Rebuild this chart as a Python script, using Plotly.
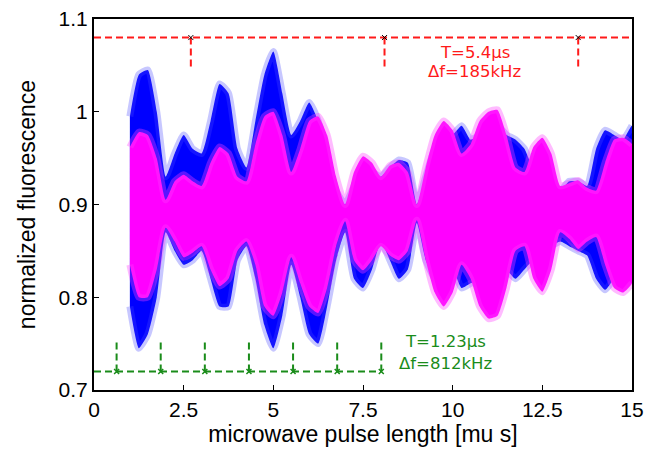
import plotly.graph_objects as go

# pulse lengths (mu s) where the envelopes are sampled
t = [1.0, 1.25, 1.5, 1.75, 2.0, 2.25, 2.5, 2.75, 3.0, 3.25, 3.5, 3.75, 4.0, 4.25,
     4.5, 4.75, 5.0, 5.25, 5.5, 5.75, 6.0, 6.25, 6.5, 6.75, 7.0, 7.25, 7.5, 7.75,
     8.0, 8.25, 8.5, 8.75, 9.0, 9.25, 9.5, 9.75, 10.0, 10.25, 10.5, 10.75, 11.0,
     11.25, 11.5, 11.75, 12.0, 12.25, 12.5, 12.75, 13.0, 13.25, 13.5, 13.75, 14.0,
     14.25, 14.5, 14.75, 15.0]

# blue trace: upper / lower envelope of the fast oscillation
blue_upper = [0.995, 1.04, 1.045, 1.0, 0.93, 0.955, 0.975, 0.96, 0.955, 0.99, 1.03,
              1.02, 0.96, 0.94, 0.99, 1.04, 1.065, 1.02, 0.975, 0.99, 1.01, 0.99,
              0.95, 0.915, 0.9, 0.92, 0.94, 0.935, 0.93, 0.94, 0.948, 0.945, 0.9,
              0.93, 0.96, 0.97, 0.975, 0.985, 0.97, 0.975, 0.98, 0.985, 0.975, 0.97,
              0.96, 0.94, 0.94, 0.92, 0.915, 0.925, 0.925, 0.92, 0.96, 0.98, 0.975,
              0.97, 0.985]
blue_lower = [0.79, 0.745, 0.76, 0.8, 0.87, 0.85, 0.835, 0.84, 0.85, 0.82, 0.79,
              0.79, 0.84, 0.855, 0.82, 0.77, 0.745, 0.78, 0.835, 0.8, 0.76, 0.75,
              0.79, 0.84, 0.87, 0.82, 0.81, 0.83, 0.86, 0.84, 0.82, 0.83, 0.88,
              0.84, 0.82, 0.81, 0.83, 0.81, 0.815, 0.82, 0.84, 0.84, 0.83, 0.82,
              0.83, 0.84, 0.84, 0.855, 0.86, 0.855, 0.85, 0.845, 0.82, 0.808, 0.82,
              0.83, 0.82]

# magenta trace: upper / lower envelope
magenta_upper = [0.962, 0.978, 0.975, 0.95, 0.905, 0.925, 0.932, 0.925, 0.92, 0.945,
                 0.962, 0.955, 0.93, 0.925, 0.965, 0.995, 1.0, 0.975, 0.935, 0.96,
                 0.99, 0.995, 0.975, 0.93, 0.9, 0.935, 0.952, 0.945, 0.93, 0.942,
                 0.945, 0.935, 0.9, 0.94, 0.975, 0.99, 0.98, 0.955, 0.965, 0.99, 1.0,
                 1.002, 0.975, 0.94, 0.935, 0.962, 0.972, 0.955, 0.92, 0.923, 0.926,
                 0.918, 0.915, 0.945, 0.97, 0.972, 0.965]
magenta_lower = [0.835, 0.8, 0.8, 0.83, 0.875, 0.86, 0.843, 0.848, 0.855, 0.83,
                 0.812, 0.82, 0.85, 0.86, 0.835, 0.79, 0.78, 0.805, 0.843, 0.815,
                 0.79, 0.783, 0.81, 0.855, 0.882, 0.84, 0.829, 0.84, 0.855, 0.845,
                 0.84, 0.85, 0.883, 0.84, 0.805, 0.79, 0.805, 0.835, 0.82, 0.79,
                 0.777, 0.78, 0.81, 0.85, 0.855, 0.82, 0.806, 0.83, 0.87, 0.863,
                 0.852, 0.86, 0.865, 0.835, 0.81, 0.805, 0.815]

# beat-period markers
red_marks = [2.7, 8.1, 13.5]
red_level, red_tick_end = 1.08, 1.045
green_marks = [0.63, 1.86, 3.09, 4.32, 5.55, 6.78, 8.01]
green_level, green_tick_end = 0.72, 0.753

x_ticks = [0, 2.5, 5, 7.5, 10, 12.5, 15]
x_tick_text = ["0", "2.5", "5", "7.5", "10", "12.5", "15"]
y_ticks = [0.7, 0.8, 0.9, 1.0, 1.1]
y_tick_text = ["0.7", "0.8", "0.9", "1", "1.1"]

RED = "#ff1a1a"
GREEN = "#1a8c1a"
DASH = "7px,4px"

fig = go.Figure()


def band(upper, lower, solid, light):
    fig.add_trace(go.Scatter(
        x=t + t[::-1], y=upper + lower[::-1], mode="lines", fill="toself",
        fillcolor=solid, line=dict(width=0, shape="spline", smoothing=0.5),
        hoverinfo="skip", showlegend=False))
    for edge in (upper, lower):
        fig.add_trace(go.Scatter(
            x=t, y=edge, mode="lines",
            line=dict(color=light, width=7, shape="spline", smoothing=0.5),
            hoverinfo="skip", showlegend=False))


band(blue_upper, blue_lower, "rgb(0,0,255)", "rgba(70,70,255,0.3)")
band(magenta_upper, magenta_lower, "rgb(255,0,255)", "rgba(255,60,255,0.35)")

# red period markers (T = 5.4 mu s)
fig.add_trace(go.Scatter(x=[0, 15], y=[red_level, red_level], mode="lines",
                         line=dict(color=RED, width=2, dash=DASH),
                         showlegend=False, hoverinfo="skip"))
for xm in red_marks:
    fig.add_trace(go.Scatter(x=[xm, xm], y=[red_level, red_tick_end], mode="lines",
                             line=dict(color=RED, width=2, dash=DASH),
                             showlegend=False, hoverinfo="skip"))
fig.add_trace(go.Scatter(x=red_marks, y=[red_level] * len(red_marks), mode="markers",
                         marker=dict(symbol="x-thin", size=5,
                                     line=dict(color="black", width=1)),
                         showlegend=False, hoverinfo="skip"))

# green period markers (T = 1.23 mu s)
fig.add_trace(go.Scatter(x=[0, green_marks[-1]], y=[green_level, green_level],
                         mode="lines", line=dict(color=GREEN, width=2, dash=DASH),
                         showlegend=False, hoverinfo="skip"))
for xm in green_marks:
    fig.add_trace(go.Scatter(x=[xm, xm], y=[green_level, green_tick_end], mode="lines",
                             line=dict(color=GREEN, width=2, dash=DASH),
                             showlegend=False, hoverinfo="skip"))
fig.add_trace(go.Scatter(x=green_marks, y=[green_level] * len(green_marks),
                         mode="markers",
                         marker=dict(symbol="x-thin", size=5,
                                     line=dict(color=GREEN, width=1.5)),
                         showlegend=False, hoverinfo="skip"))

note_font = dict(family="DejaVu Sans", size=16.5)
fig.add_annotation(x=10.61, y=1.0635, text="T=5.4µs", showarrow=False,
                   font=dict(note_font, color=RED))
fig.add_annotation(x=10.61, y=1.043, text="Δf=185kHz", showarrow=False,
                   font=dict(note_font, color=RED))
fig.add_annotation(x=9.79, y=0.7525, text="T=1.23µs", showarrow=False,
                   font=dict(note_font, color=GREEN))
fig.add_annotation(x=9.79, y=0.729, text="Δf=812kHz", showarrow=False,
                   font=dict(note_font, color=GREEN))

axis_common = dict(showline=True, linecolor="black", linewidth=2, mirror=True,
                   ticks="inside", ticklen=5, tickwidth=1, tickcolor="black",
                   showgrid=False, zeroline=False, automargin=False,
                   tickfont=dict(family="Liberation Sans", size=21, color="black"))

fig.update_layout(
    width=649, height=453,
    margin=dict(l=94, r=17, t=19, b=63),
    paper_bgcolor="white", plot_bgcolor="white",
    xaxis=dict(axis_common, range=[0, 15], tickvals=x_ticks, ticktext=x_tick_text,
               title=dict(text="microwave pulse length [mu s]", standoff=4,
                          font=dict(family="Liberation Sans", size=23, color="black"))),
    yaxis=dict(axis_common, range=[0.7, 1.1], tickvals=y_ticks, ticktext=y_tick_text,
               title=dict(text="normalized fluorescence", standoff=17,
                          font=dict(family="Liberation Sans", size=23, color="black"))),
)

fig.write_html("out.html")
